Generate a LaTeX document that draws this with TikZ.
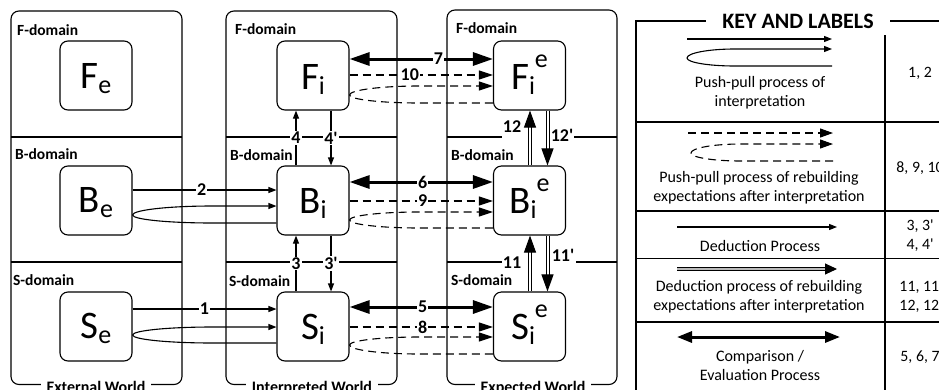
\documentclass[tikz,border=0pt]{standalone}
\usepackage{fontspec}
\setmainfont{Carlito}
\usetikzlibrary{arrows.meta,calc}
\newcommand\fsz[1]{\fontsize{#1}{#1}\selectfont}
\newcommand\lsub[1]{\raisebox{-5pt}{\fsz{26}#1}}
\newcommand\lsup[1]{\raisebox{22pt}{\fsz{26}#1}}
\newcommand\qq{\textquotesingle}
% push-pull loop: #1 style, #2 source point, #3 target point, #4 top, #5 tip, #6 bottom offsets, #7 curve length
\newcommand\pploop[7]{%
  \pgfmathsetmacro\ppA{#5-0.5523*(#5-#4)}%
  \pgfmathsetmacro\ppB{#5+0.5523*(#6-#5)}%
  \pgfmathsetmacro\ppR{0.4477*#7}%
  \draw[#1] ($(#3)+(0,#6)$) -- ($(#2)+(#7,#6)$)
    .. controls ($(#2)+(\ppR,#6)$) and ($(#2)+(0,\ppB)$) .. ($(#2)+(0,#5)$)
    .. controls ($(#2)+(0,\ppA)$) and ($(#2)+(\ppR,#4)$) .. ($(#2)+(#7,#4)$)
    -- ($(#3)+(0,#4)$);}
\tikzset{
  pbox/.style={draw, line width=1.1pt, rounded corners=8pt, minimum width=72pt, minimum height=69pt, inner sep=0pt},
  blab/.style={anchor=base, inner sep=0pt, font=\fsz{39}},
  dom/.style={anchor=west, inner sep=0pt, font=\bfseries\fsz{15.5}},
  wtitle/.style={anchor=base, fill=white, inner xsep=6pt, inner ysep=2pt, font=\bfseries\fsz{16}},
  lbl/.style={fill=white, inner sep=1pt, font=\bfseries\fsz{18}},
  thinarr/.style={line width=1.1pt, -{Triangle[length=8pt,width=6pt]}},
  dasharr/.style={line width=1.1pt, dash pattern=on 8pt off 5pt, -{Triangle[length=14pt,width=9pt]}},
  bigarr/.style={line width=3pt, {Triangle[length=20pt,width=13pt]}-{Triangle[length=20pt,width=13pt]}},
  dblarr/.style={line width=1pt, double=white, double distance=2pt, -{Triangle[length=17pt,width=12pt]}},
  panel/.style={line width=1.1pt, rounded corners=8pt},
  divl/.style={line width=1.1pt},
  ktext/.style={align=center, inner sep=0pt, font=\fontsize{16}{19}\selectfont},
  klab/.style={align=center, inner sep=0pt, font=\fontsize{15.8}{19}\selectfont},
}
\begin{document}
\begin{tikzpicture}[x=1pt,y=-1pt]
\useasboundingbox (0,0) rectangle (939,389);
\clip (0,0) rectangle (939,389);
% panels
\draw[panel] (11,11) rectangle (182,384.5);
\draw[panel] (226,11) rectangle (397,384.5);
\draw[panel] (447,10) rectangle (617,384.5);
\draw[divl] (11,137) -- (182,137);
\draw[divl] (11,262) -- (182,262);
\draw[divl] (226,137) -- (397,137);
\draw[divl] (226,262) -- (397,262);
\draw[divl] (447,137) -- (502,137);
\draw[divl] (572,137) -- (617,137);
\draw[divl] (447,262) -- (503,262);
\draw[divl] (576,262) -- (617,262);
\node[wtitle] (wE) at (96,392) {External World};
\node[wtitle] (wI) at (312,392) {Interpreted World};
\node[wtitle] (wX) at (533,392) {Expected World};
% domain labels
\node[dom] (dEF) at (17,30) {F-domain};
\node[dom] (dEB) at (15,154) {B-domain};
\node[dom] (dES) at (13,280) {S-domain};
\node[dom] (dIF) at (235,29) {F-domain};
\node[dom] (dIB) at (230,155) {B-domain};
\node[dom] (dIS) at (229,281) {S-domain};
\node[dom] (dXF) at (456,28) {F-domain};
\node[dom] (dXB) at (451,155) {B-domain};
\node[dom] (dXS) at (451,280) {S-domain};
% boxes
\node[pbox] (Fe) at (96,75.5) {};
\node[pbox] (Be) at (96,200.5) {};
\node[pbox] (Se) at (96,326.5) {};
\node[pbox] (Fi) at (313,75.5) {};
\node[pbox] (Bi) at (313,200.5) {};
\node[pbox] (Si) at (313,326.5) {};
\node[pbox] (Fie) at (529.5,75.5) {};
\node[pbox] (Bie) at (529.5,200.5) {};
\node[pbox] (Sie) at (529.5,326.5) {};
\node[blab] (tFe) at ($(Fe.center)+(0,13)$) {F\lsub{e}};
\node[blab] (tBe) at ($(Be.center)+(0,12)$) {B\lsub{e}};
\node[blab] (tSe) at ($(Se.center)+(0,12)$) {S\lsub{e}};
\node[blab] (tFi) at ($(Fi.center)+(0,14)$) {F\lsub{i}};
\node[blab] (tBi) at ($(Bi.center)+(0,13)$) {B\lsub{i}};
\node[blab] (tSi) at ($(Si.center)+(0,13)$) {S\lsub{i}};
\node[blab] (tFie) at ($(Fie.center)+(0,14)$) {F\lsub{i}\lsup{e}};
\node[blab] (tBie) at ($(Bie.center)+(0,13)$) {B\lsub{i}\lsup{e}};
\node[blab] (tSie) at ($(Sie.center)+(0,13)$) {S\lsub{i}\lsup{e}};
% external -> interpreted
\draw[thinarr] ($(Be.east)+(0,-10.5)$) -- ($(Bi.west)+(0,-10.5)$) node[lbl,pos=0.48] {2};
\pploop{thinarr}{Be.east}{Bi.west}{5.5}{14.5}{22.5}{80}
\draw[thinarr] ($(Se.east)+(0,-17.5)$) -- ($(Si.west)+(0,-17.5)$) node[lbl,pos=0.5] {1};
\pploop{thinarr}{Se.east}{Si.west}{0.5}{8.5}{16.5}{80}
% interpreted <-> expected
\draw[bigarr] ($(Fi.east)+(0,-16.5)$) -- ($(Fie.west)+(0,-16.5)$) node[lbl,pos=0.62] {7};
\draw[dasharr] ($(Fi.east)+(0,-0.5)$) -- ($(Fie.west)+(0,-0.5)$) node[lbl,pos=0.42] {10};
\pploop{dasharr}{Fi.east}{Fie.west}{10.5}{19.5}{27.5}{70}
\draw[bigarr] ($(Bi.east)+(0,-18.5)$) -- ($(Bie.west)+(0,-18.5)$) node[lbl,pos=0.51] {6};
\draw[dasharr] ($(Bi.east)+(0,0.5)$) -- ($(Bie.west)+(0,0.5)$) node[lbl,pos=0.51] {9};
\pploop{dasharr}{Bi.east}{Bie.west}{11.5}{19.5}{27.5}{70}
\draw[bigarr] ($(Si.east)+(0,-19.5)$) -- ($(Sie.west)+(0,-19.5)$) node[lbl,pos=0.51] {5};
\draw[dasharr] ($(Si.east)+(0,0.5)$) -- ($(Sie.west)+(0,0.5)$) node[lbl,pos=0.51] {8};
\pploop{dasharr}{Si.east}{Sie.west}{10.5}{18.5}{27.5}{70}
% deductions inside interpreted
\draw[thinarr] ($(Bi.north)+(-17,0)$) -- ($(Fi.south)+(-17,0)$) node[lbl,midway] {4};
\draw[thinarr] ($(Fi.south)+(18,0)$) -- ($(Bi.north)+(18,0)$) node[lbl,midway] {4\qq};
\draw[thinarr] ($(Si.north)+(-17,0)$) -- ($(Bi.south)+(-17,0)$) node[lbl,midway] {3};
\draw[thinarr] ($(Bi.south)+(18,0)$) -- ($(Si.north)+(18,0)$) node[lbl,midway] {3\qq};
% deductions inside expected
\draw[dblarr] ($(Bie.north)+(0.5,0)$) -- ($(Fie.south)+(0.5,0)$) node[lbl,pos=0.71,xshift=-18pt] {12};
\draw[dblarr] ($(Fie.south)+(18,0)$) -- ($(Bie.north)+(18,0)$) node[lbl,pos=0.46,xshift=14.5pt] {12\qq};
\draw[dblarr] ($(Sie.north)+(0.5,0)$) -- ($(Bie.south)+(0.5,0)$) node[lbl,pos=0.52,xshift=-18pt] {11};
\draw[dblarr] ($(Bie.south)+(18,0)$) -- ($(Sie.north)+(18,0)$) node[lbl,pos=0.36,xshift=15.5pt] {11\qq};
% key
\draw[divl] (636,395) -- (636,21) -- (945,21);
\node[fill=white, inner xsep=16pt, inner ysep=1pt, font=\bfseries\fsz{22}] (keyt) at (798,21) {KEY AND LABELS};
\draw[divl] (885,35) -- (885,395);
\draw[divl] (636,122) -- (945,122);
\draw[divl] (636,211) -- (945,211);
\draw[divl] (636,258.5) -- (945,258.5);
\draw[divl] (636,322) -- (945,322);
\coordinate (k1a) at (687,39); \coordinate (k1b) at (832,39);
\draw[thinarr] (k1a) -- (k1b);
\coordinate (k1c) at (687,58); \coordinate (k1d) at (832,58);
\pploop{thinarr}{k1c}{k1d}{-9}{0}{8}{48}
\coordinate (k2a) at (688,133); \coordinate (k2b) at (833,133);
\draw[dasharr, -{Triangle[length=13pt,width=9pt]}] (k2a) -- (k2b);
\coordinate (k2c) at (691,153); \coordinate (k2d) at (833,153);
\pploop{dasharr,-{Triangle[length=13pt,width=9pt]}}{k2c}{k2d}{-9}{0}{8}{50}
\coordinate (k3a) at (677,227); \coordinate (k3b) at (837,227);
\draw[thinarr] (k3a) -- (k3b);
\coordinate (k4a) at (677,269); \coordinate (k4b) at (837,269);
\draw[dblarr, double=gray!55, -{Triangle[length=12pt,width=11pt]}] (k4a) -- (k4b);
\coordinate (k5a) at (677,337); \coordinate (k5b) at (840,337);
\draw[line width=3pt, {Triangle[length=15pt,width=11pt]}-{Triangle[length=15pt,width=11pt]}] (k5a) -- (k5b);
\node[ktext] (kt1) at (760,92.5) {Push-pull process of\\interpretation};
\node[ktext] (kt2) at (759,187.5) {Push-pull process of rebuilding\\expectations after interpretation};
\node[ktext] (kt3) at (760,246) {Deduction Process};
\node[ktext] (kt4) at (759,296.5) {Deduction process of rebuilding\\expectations after interpretation};
\node[ktext] (kt5) at (760,365.5) {Comparison /\\Evaluation Process};
\node[klab] (kl1) at (920,73) {1, 2};
\node[klab] (kl2) at (920,168) {8, 9, 10};
\node[klab] (kl3) at (920,235.5) {3, 3\qq\\4, 4\qq};
\node[klab] (kl4) at (921,296.5) {11, 11\qq\\12, 12\qq};
\node[klab] (kl5) at (920,357) {5, 6, 7};
\end{tikzpicture}
\end{document}
